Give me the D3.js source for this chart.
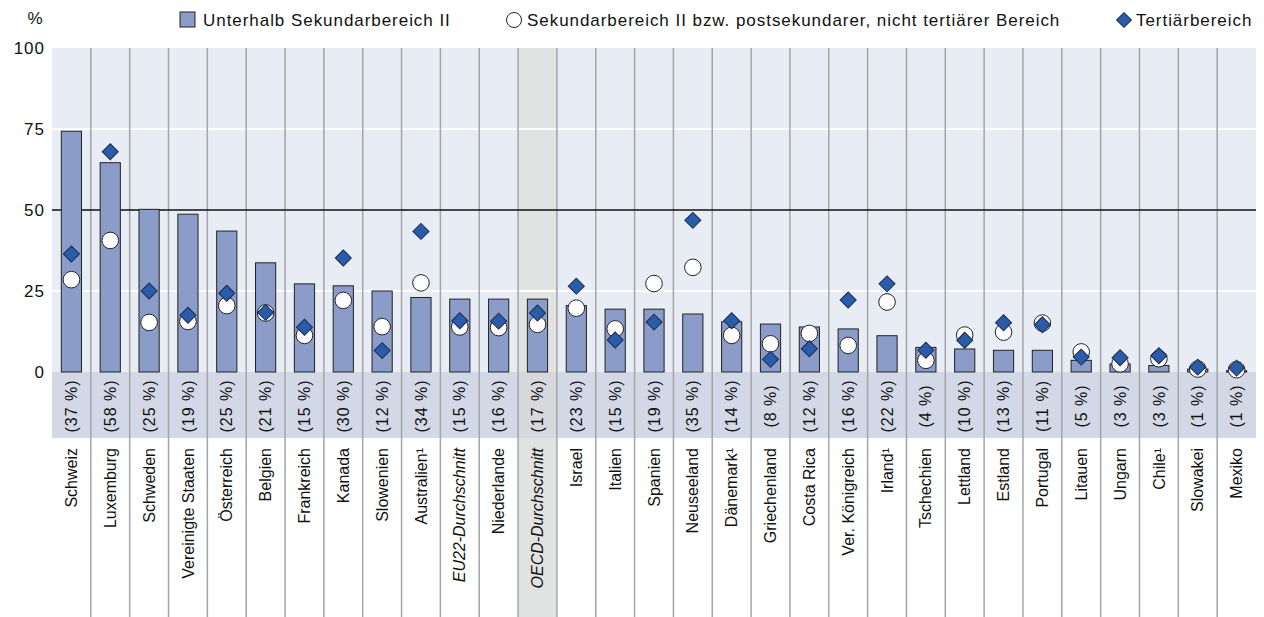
<html>
<head>
<meta charset="utf-8">
<title>Anteil nach Bildungsstand</title>
<style>
  body {margin: 0; background: #fff;}
  svg {display: block;}
  text {font-family: "Liberation Sans", Arial, sans-serif; fill: #111;}
</style>
</head>
<body>
<svg></svg>
<script src="https://d3js.org/d3.v7.min.js"></script>
<script>
// countries in display order
const countries = ["Schweiz", "Luxemburg", "Schweden", "Vereinigte Staaten", "Österreich", "Belgien",
  "Frankreich", "Kanada", "Slowenien", "Australien¹", "EU22-Durchschnitt", "Niederlande",
  "OECD-Durchschnitt", "Israel", "Italien", "Spanien", "Neuseeland", "Dänemark¹", "Griechenland",
  "Costa Rica", "Ver. Königreich", "Irland¹", "Tschechien", "Lettland", "Estland", "Portugal",
  "Litauen", "Ungarn", "Chile¹", "Slowakei", "Mexiko"];

// Unterhalb Sekundarbereich II (bars)
const belowUpper = [74.3, 64.6, 50.2, 48.7, 43.5, 33.7, 27.2, 26.6, 25.0, 23.0, 22.5, 22.5,
  22.5, 20.5, 19.4, 19.4, 17.9, 15.5, 14.8, 13.9, 13.3, 11.2, 7.6, 7.1, 6.7, 6.7,
  3.6, 2.5, 2.0, 0.9, 0.4];

// Sekundarbereich II bzw. postsekundarer, nicht tertiärer Bereich (circles)
const upperSec = [28.5, 40.6, 15.3, 15.6, 20.5, 18.2, 11.3, 22.1, 14.0, 27.5, 13.9, 13.7,
  14.7, 19.7, 13.3, 27.3, 32.3, 11.3, 8.7, 11.9, 8.2, 21.6, 3.6, 11.4, 12.3, 15.1,
  6.2, 2.5, 4.1, 0.9, 0.7];

// Tertiärbereich (diamonds)
const tertiary = [36.4, 68.0, 25.0, 17.5, 24.3, 18.4, 13.8, 35.2, 6.6, 43.4, 15.8, 15.7,
  18.2, 26.5, 9.9, 15.4, 46.8, 15.8, 3.9, 7.2, 22.2, 27.2, 6.7, 9.8, 15.2, 14.6,
  4.6, 4.4, 5.0, 1.5, 1.2];

// share labels in the grey band
const shares = [37, 58, 25, 19, 25, 21, 15, 30, 12, 34, 15, 16, 17, 23, 15, 19, 35, 14, 8, 12,
  16, 22, 4, 10, 13, 11, 5, 3, 3, 1, 1];

const yTicks = [0, 25, 50, 75, 100];
const averages = ["EU22-Durchschnitt", "OECD-Durchschnitt"];

const width = 1264, height = 617;
const plotLeft = 52, plotRight = 1256, plotTop = 48, zeroY = 372, bandBottom = 438;

const barColor = "#8c9cc8", diamondColor = "#2a5caa";

const svg = d3.select("svg").attr("width", width).attr("height", height);

const x = d3.scaleBand().domain(countries).range([plotLeft, plotRight]).padding(0);
const y = d3.scaleLinear().domain([0, 100]).range([zeroY, plotTop]);
const bw = x.bandwidth();
const cx = d => x(d) + bw / 2;

// backgrounds
svg.append("rect").attr("x", plotLeft).attr("y", plotTop).attr("width", plotRight - plotLeft)
  .attr("height", zeroY - plotTop).attr("fill", "#e8ecf4");
svg.append("rect").attr("x", plotLeft).attr("y", zeroY).attr("width", plotRight - plotLeft)
  .attr("height", bandBottom - zeroY).attr("fill", "#d2d8e6");

// OECD column highlighted
const oecd = "OECD-Durchschnitt";
svg.append("rect").attr("x", x(oecd)).attr("y", plotTop).attr("width", bw)
  .attr("height", zeroY - plotTop).attr("fill", "#e1e2e2");
svg.append("rect").attr("x", x(oecd)).attr("y", zeroY).attr("width", bw)
  .attr("height", bandBottom - zeroY).attr("fill", "#d6d8dc");
svg.append("rect").attr("x", x(oecd)).attr("y", bandBottom).attr("width", bw)
  .attr("height", height - bandBottom).attr("fill", "#e1e2e2");

// horizontal grid
svg.append("g").selectAll("line").data([25, 75]).join("line")
  .attr("x1", plotLeft).attr("x2", plotRight).attr("y1", d => y(d)).attr("y2", d => y(d))
  .attr("stroke", "#fff").attr("stroke-width", 2);

// column dividers
svg.append("g").selectAll("line").data(countries.slice(1)).join("line")
  .attr("x1", d => x(d)).attr("x2", d => x(d)).attr("y1", plotTop).attr("y2", height)
  .attr("stroke", "#a3a5a8").attr("stroke-width", 1.5);

// 50 % line
svg.append("line").attr("x1", plotLeft).attr("x2", plotRight).attr("y1", y(50)).attr("y2", y(50))
  .attr("stroke", "#111").attr("stroke-width", 1.5);

// y axis labels
svg.append("g").selectAll("text").data(yTicks).join("text")
  .attr("x", 45).attr("y", d => y(d)).attr("dy", "0.35em").attr("text-anchor", "end")
  .style("font-size", "17px").style("letter-spacing", "1px").text(d => d);
svg.append("text").attr("x", 35).attr("y", 18).attr("dy", "0.35em").attr("text-anchor", "middle")
  .style("font-size", "17px").text("%");

// bars
const barW = bw * 0.52;
svg.append("g").selectAll("rect").data(countries).join("rect")
  .attr("x", d => cx(d) - barW / 2).attr("width", barW)
  .attr("y", (d, i) => y(belowUpper[i])).attr("height", (d, i) => zeroY - y(belowUpper[i]))
  .attr("fill", barColor).attr("stroke", "#222").attr("stroke-width", 1);

// circles
svg.append("g").selectAll("circle").data(countries).join("circle")
  .attr("cx", d => cx(d)).attr("cy", (d, i) => y(upperSec[i])).attr("r", 8.3)
  .attr("fill", "#fff").attr("stroke", "#222").attr("stroke-width", 1);

// diamonds
const diamond = d3.symbol().type(d3.symbolSquare).size(128);
svg.append("g").selectAll("path").data(countries).join("path")
  .attr("d", diamond)
  .attr("transform", (d, i) => `translate(${cx(d)},${y(tertiary[i])}) rotate(45)`)
  .attr("fill", diamondColor).attr("stroke", "#1b2b4d").attr("stroke-width", 1);

// share labels
svg.append("g").selectAll("text").data(countries).join("text")
  .attr("transform", d => `translate(${cx(d)},406) rotate(-90)`)
  .attr("dy", "0.35em").attr("text-anchor", "middle")
  .style("font-size", "16px").style("letter-spacing", "1px")
  .text((d, i) => `(${shares[i]} %)`);

// country labels
svg.append("g").selectAll("text").data(countries).join("text")
  .attr("transform", d => `translate(${cx(d)},448) rotate(-90)`)
  .attr("dy", "0.35em").attr("text-anchor", "end")
  .style("font-size", "16px")
  .style("font-style", d => averages.includes(d) ? "italic" : "normal")
  .text(d => d);

// legend
const lg = svg.append("g").style("font-size", "17px").style("letter-spacing", "0.95px");
lg.append("rect").attr("x", 180).attr("y", 12).attr("width", 15).attr("height", 15)
  .attr("fill", barColor).attr("stroke", "#222");
lg.append("text").attr("x", 203).attr("y", 20).attr("dy", "0.35em")
  .text("Unterhalb Sekundarbereich II");
lg.append("circle").attr("cx", 514).attr("cy", 20).attr("r", 7.5)
  .attr("fill", "#fff").attr("stroke", "#222");
lg.append("text").attr("x", 527).attr("y", 20).attr("dy", "0.35em")
  .text("Sekundarbereich II bzw. postsekundarer, nicht tertiärer Bereich");
lg.append("path").attr("d", d3.symbol().type(d3.symbolSquare).size(110))
  .attr("transform", "translate(1124,20) rotate(45)")
  .attr("fill", diamondColor).attr("stroke", "#1b2b4d");
lg.append("text").attr("x", 1136).attr("y", 20).attr("dy", "0.35em")
  .text("Tertiärbereich");
</script>
</body>
</html>
